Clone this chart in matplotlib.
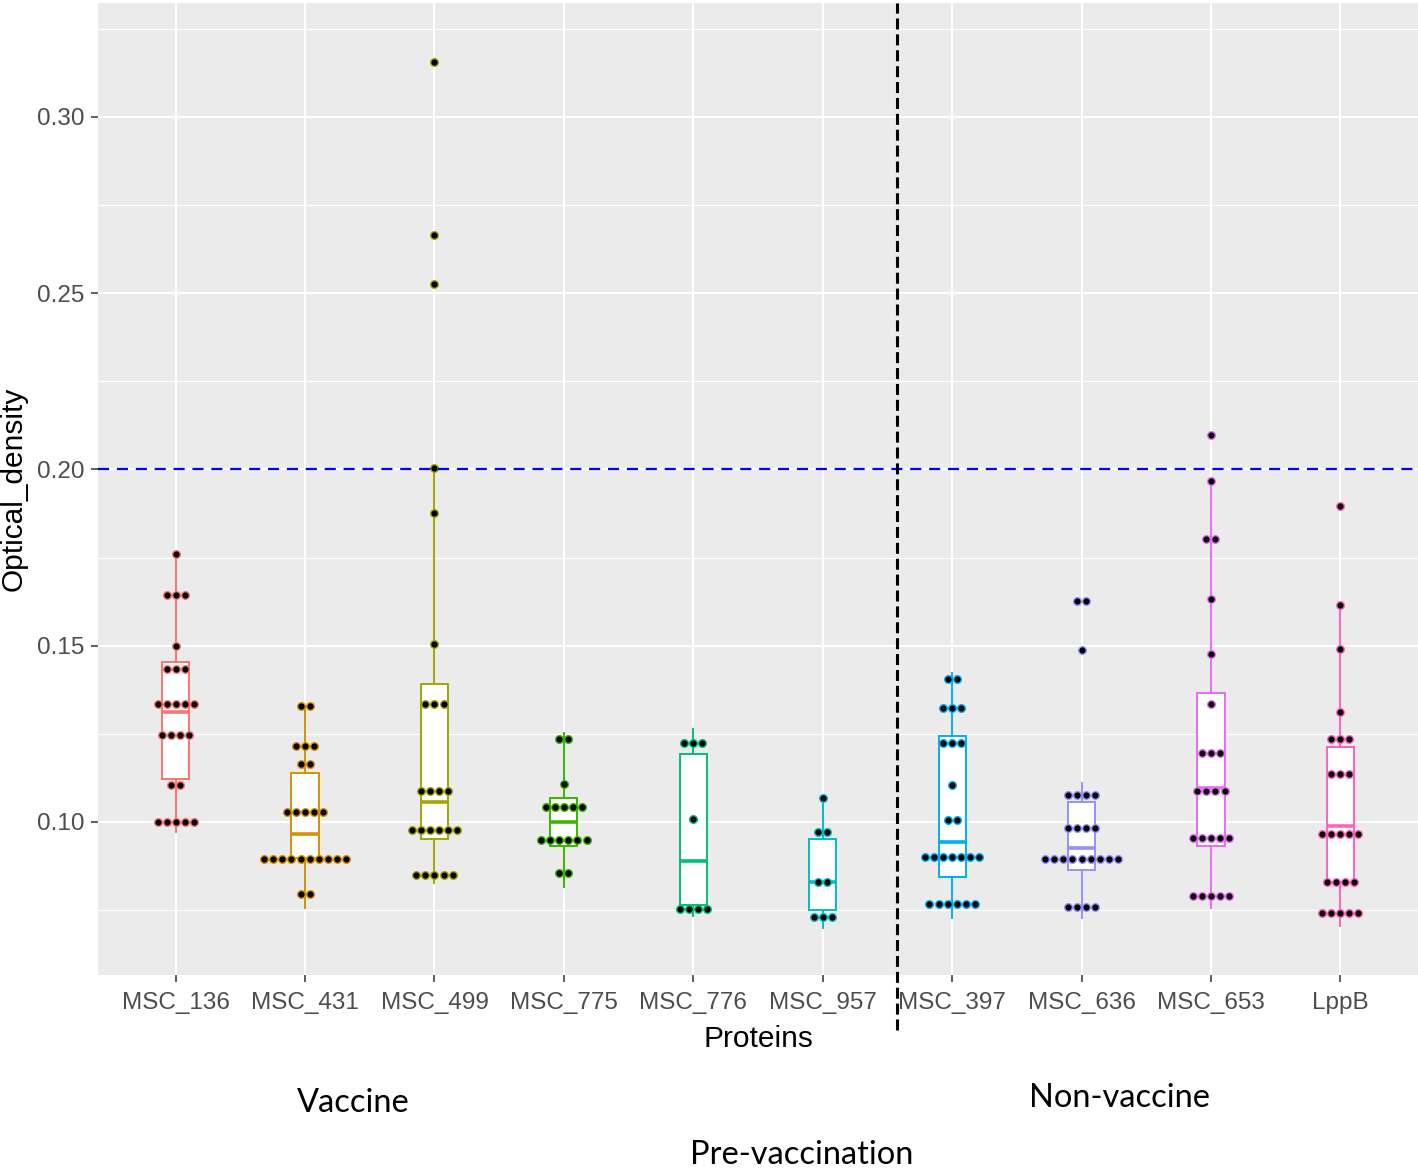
import numpy as np
import matplotlib.pyplot as plt

plt.rcParams.update({
    "font.family": "Liberation Sans",
    "axes.spines.left": False,
    "axes.spines.right": False,
    "axes.spines.top": False,
    "axes.spines.bottom": False,
})

proteins = ["MSC_136", "MSC_431", "MSC_499", "MSC_775", "MSC_776",
            "MSC_957", "MSC_397", "MSC_636", "MSC_653", "LppB"]
colors = ["#F8766D", "#D89000", "#A3A500", "#39B600", "#00BF7D",
          "#00BFC4", "#00B0F6", "#9590FF", "#E76BF3", "#FF62BC"]

# optical density readings (binned dot positions)
msc_136 = [0.176, 0.1645, 0.1645, 0.1645, 0.150, 0.1435, 0.1435, 0.1435,
           0.1335, 0.1335, 0.1335, 0.1335, 0.1335, 0.1247, 0.1247, 0.1247, 0.1247,
           0.1105, 0.1105, 0.100, 0.100, 0.100, 0.100, 0.100]
msc_431 = [0.133, 0.133, 0.1216, 0.1216, 0.1216, 0.1164, 0.1164,
           0.1029, 0.1029, 0.1029, 0.1029, 0.1029,
           0.0894, 0.0894, 0.0894, 0.0894, 0.0894, 0.0894, 0.0894, 0.0894, 0.0894, 0.0894,
           0.0796, 0.0796]
msc_499 = [0.3157, 0.2665, 0.2525, 0.2005, 0.1876, 0.1504, 0.1335, 0.1335, 0.1335,
           0.1089, 0.1089, 0.1089, 0.1089, 0.0977, 0.0977, 0.0977, 0.0977, 0.0977, 0.0977,
           0.0849, 0.0849, 0.0849, 0.0849, 0.0849]
msc_775 = [0.1235, 0.1235, 0.1107, 0.1042, 0.1042, 0.1042, 0.1042, 0.1042,
           0.0949, 0.0949, 0.0949, 0.0949, 0.0949, 0.0949, 0.0854, 0.0854]
msc_776 = [0.1223, 0.1223, 0.1223, 0.1008, 0.0753, 0.0753, 0.0753, 0.0753]
msc_957 = [0.1067, 0.0972, 0.0972, 0.0831, 0.0831, 0.0731, 0.0731, 0.0731]
msc_397 = [0.1406, 0.1406, 0.1322, 0.1322, 0.1322, 0.1223, 0.1223, 0.1223, 0.1106,
           0.1006, 0.1006, 0.0901, 0.0901, 0.0901, 0.0901, 0.0901, 0.0901, 0.0901,
           0.0766, 0.0766, 0.0766, 0.0766, 0.0766, 0.0766]
msc_636 = [0.1627, 0.1627, 0.1487, 0.1077, 0.1077, 0.1077, 0.1077,
           0.0984, 0.0984, 0.0984, 0.0984,
           0.0895, 0.0895, 0.0895, 0.0895, 0.0895, 0.0895, 0.0895, 0.0895, 0.0895,
           0.0760, 0.0760, 0.0760, 0.0760]
msc_653 = [0.2098, 0.1968, 0.1803, 0.1803, 0.1633, 0.1476, 0.1335,
           0.1195, 0.1195, 0.1195, 0.1089, 0.1089, 0.1089, 0.1089,
           0.0954, 0.0954, 0.0954, 0.0954, 0.0954, 0.079, 0.079, 0.079, 0.079, 0.079]
lppb = [0.1897, 0.1616, 0.1492, 0.1311, 0.1234, 0.1234, 0.1234,
        0.1135, 0.1135, 0.1135, 0.0965, 0.0965, 0.0965, 0.0965, 0.0965,
        0.0831, 0.0831, 0.0831, 0.0831, 0.0743, 0.0743, 0.0743, 0.0743, 0.0743]
readings = [msc_136, msc_431, msc_499, msc_775, msc_776,
            msc_957, msc_397, msc_636, msc_653, lppb]

# box statistics as drawn in the original
q1 = [0.1121, 0.0897, 0.0951, 0.0933, 0.0764, 0.0750, 0.0845, 0.0864, 0.0933, 0.0831]
med = [0.1311, 0.0966, 0.1058, 0.0999, 0.0889, 0.0831, 0.0942, 0.0925, 0.1095, 0.0989]
q3 = [0.1455, 0.1138, 0.1391, 0.1069, 0.1192, 0.0951, 0.1244, 0.1056, 0.1367, 0.1214]
whis_lo = [0.0972, 0.0757, 0.0826, 0.0815, 0.0733, 0.0698, 0.0727, 0.0727, 0.0755, 0.0705]
whis_hi = [0.1757, 0.1329, 0.2005, 0.1251, 0.1263, 0.1067, 0.1422, 0.1110, 0.1968, 0.1616]

threshold = 0.20

W, H = 1418, 1168
fig = plt.figure(figsize=(W / 100, H / 100), dpi=100)
ax = fig.add_axes([98 / W, (H - 975) / H, 1320 / W, 972 / H])
ax.set_facecolor("#EBEBEB")

pos = np.arange(1, len(proteins) + 1)
stats = [dict(q1=a, med=b, q3=c, whislo=d, whishi=e, fliers=[])
         for a, b, c, d, e in zip(q1, med, q3, whis_lo, whis_hi)]
bp = ax.bxp(stats, positions=pos, widths=0.21, patch_artist=True,
            showcaps=False, showfliers=False, zorder=3)
for i, col in enumerate(colors):
    bp["boxes"][i].set(facecolor="white", edgecolor=col, linewidth=1.4)
    bp["medians"][i].set(color=col, linewidth=2.6)
    for w in bp["whiskers"][2 * i:2 * i + 2]:
        w.set(color=col, linewidth=1.4)

# centred dot stacks
step = 0.07
for p, vals, col in zip(pos, readings, colors):
    lv, cnt = np.unique(vals, return_counts=True)
    for v, n in zip(lv, cnt):
        xs = p + (np.arange(n) - (n - 1) / 2) * step
        ax.scatter(xs, np.full(n, v), s=30, c="black", edgecolors=col,
                   linewidths=1.0, zorder=4)

ax.axhline(threshold, color="#0000FF", lw=1.6, ls=(0, (5, 3.5)), zorder=5)
ax.axvline(6.575, ymin=-0.057, ymax=1.0, color="black", lw=2.2,
           ls=(0, (3.6, 1.6)), clip_on=False, zorder=6)

ax.set_xlim(0.4, 10.6)
ax.set_ylim(0.0566, 0.3323)
ax.set_xticks(pos)
ax.set_xticklabels(proteins)
ax.set_yticks([0.10, 0.15, 0.20, 0.25, 0.30])
ax.set_yticklabels(["0.10", "0.15", "0.20", "0.25", "0.30"])
ax.set_yticks([0.075, 0.125, 0.175, 0.225, 0.275, 0.325], minor=True)
ax.grid(which="major", color="white", lw=1.5)
ax.grid(which="minor", axis="y", color="white", lw=0.8)
ax.set_axisbelow(True)
ax.tick_params(axis="both", which="major", labelsize=17.5, labelcolor="#4D4D4D",
               color="#333333", length=5, width=1.1)
ax.tick_params(axis="x", which="major", pad=7)
ax.tick_params(axis="y", which="major", pad=5)
ax.tick_params(axis="y", which="minor", length=0)

fig.text(14 / W, 1 - 489 / H, "Optical_density", rotation=90, ha="center",
         va="center", fontsize=21.5)
fig.text(758 / W, 1 - 1039 / H, "Proteins", ha="center", va="center", fontsize=21.5)

for label, x, y in [("Vaccine", 353, 1103), ("Non-vaccine", 1120, 1098),
                    ("Pre-vaccination", 802, 1155)]:
    fig.text(x / W, 1 - y / H, label, ha="center", va="center",
             fontsize=23.5, family="Lato")

fig.savefig("out.png", dpi=100)
